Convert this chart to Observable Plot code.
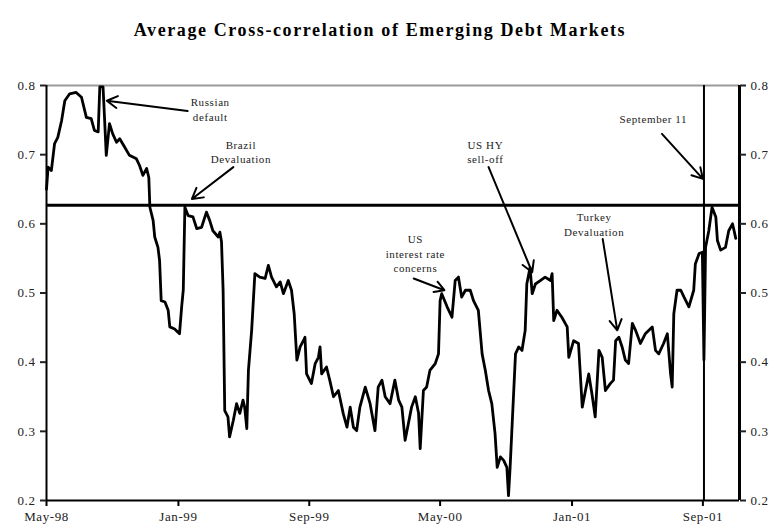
<!DOCTYPE html>
<html><head><meta charset="utf-8">
<script src="https://cdn.jsdelivr.net/npm/d3@7"></script>
<script src="https://cdn.jsdelivr.net/npm/@observablehq/plot@0.6"></script>
<style>
body{margin:0;background:#fff;}
#title{height:60px;box-sizing:border-box;padding-top:20px;text-align:center;font:bold 18px "Liberation Serif",serif;letter-spacing:1.6px;color:#000;width:760px;}
#chart svg text{letter-spacing:0.6px;}
</style></head><body>
<div id="title">Average Cross-correlation of Emerging Debt Markets</div>
<div id="chart"></div>
<script>
const dates = [
"1998-05-01","1998-05-04","1998-05-10","1998-05-16","1998-05-22","1998-05-29","1998-06-04","1998-06-13","1998-06-25","1998-07-05",
"1998-07-14","1998-07-23","1998-07-29","1998-08-05","1998-08-08","1998-08-14","1998-08-17","1998-08-20","1998-08-26","1998-09-01",
"1998-09-08","1998-09-14","1998-09-23","1998-10-02","1998-10-15","1998-10-21","1998-10-27","1998-11-03","1998-11-07","1998-11-09",
"1998-11-15","1998-11-18","1998-11-24","1998-11-27","1998-11-30","1998-12-07","1998-12-13","1998-12-16","1998-12-25","1999-01-03",
"1999-01-07","1999-01-10","1999-01-13","1999-01-19","1999-01-28","1999-02-04","1999-02-13","1999-02-22","1999-02-28","1999-03-06",
"1999-03-16","1999-03-19","1999-03-22","1999-03-25","1999-03-28","1999-04-03","1999-04-06","1999-04-13","1999-04-19","1999-04-25",
"1999-05-01","1999-05-04","1999-05-08","1999-05-11","1999-05-17","1999-05-23","1999-06-01","1999-06-11","1999-06-17","1999-06-23",
"1999-07-02","1999-07-09","1999-07-15","1999-07-24","1999-07-30","1999-08-04","1999-08-09","1999-08-15","1999-08-21","1999-08-24",
"1999-08-27","1999-09-05","1999-09-12","1999-09-18","1999-09-21","1999-09-24","1999-10-03","1999-10-09","1999-10-16","1999-10-25",
"1999-11-03","1999-11-10","1999-11-16","1999-11-22","1999-11-28","1999-12-04","1999-12-14","1999-12-23","2000-01-01","2000-01-07",
"2000-01-14","2000-01-20","2000-01-29","2000-02-07","2000-02-14","2000-02-20","2000-02-26","2000-03-03","2000-03-09","2000-03-16",
"2000-03-22","2000-03-25","2000-03-31","2000-04-06","2000-04-12","2000-04-22","2000-04-28","2000-05-01","2000-05-04","2000-05-14",
"2000-05-23","2000-05-29","2000-06-04","2000-06-10","2000-06-17","2000-06-26","2000-07-02","2000-07-11","2000-07-18","2000-07-24",
"2000-07-30","2000-08-05","2000-08-11","2000-08-15","2000-08-21","2000-08-27","2000-09-02","2000-09-05","2000-09-08","2000-09-11",
"2000-09-18","2000-09-24","2000-09-30","2000-10-06","2000-10-09","2000-10-15","2000-10-19","2000-10-25","2000-11-03","2000-11-12",
"2000-11-22","2000-11-25","2000-11-28","2000-12-04","2000-12-13","2000-12-23","2000-12-26","2001-01-04","2001-01-13","2001-01-20",
"2001-01-26","2001-02-01","2001-02-07","2001-02-13","2001-02-20","2001-02-26","2001-03-04","2001-03-13","2001-03-19","2001-03-23",
"2001-03-29","2001-04-04","2001-04-10","2001-04-16","2001-04-23","2001-04-29","2001-05-08","2001-05-17","2001-05-30","2001-06-05",
"2001-06-11","2001-06-20","2001-06-27","2001-07-03","2001-07-06","2001-07-09","2001-07-15","2001-07-22","2001-07-28","2001-08-06",
"2001-08-15","2001-08-18","2001-08-25","2001-08-31","2001-09-03","2001-09-06","2001-09-12","2001-09-18","2001-09-25","2001-09-28",
"2001-10-04","2001-10-13","2001-10-19","2001-10-26","2001-10-29","2001-11-01"
];
const values = [
0.650,0.682,0.677,0.716,0.725,0.749,0.778,0.788,0.790,0.783,
0.754,0.752,0.735,0.733,0.798,0.798,0.749,0.699,0.745,0.730,
0.718,0.723,0.711,0.699,0.694,0.684,0.670,0.680,0.667,0.624,
0.605,0.581,0.566,0.547,0.489,0.487,0.475,0.451,0.448,0.441,
0.480,0.504,0.624,0.612,0.610,0.593,0.595,0.617,0.605,0.590,
0.581,0.588,0.574,0.504,0.330,0.321,0.292,0.316,0.340,0.326,
0.345,0.335,0.304,0.388,0.446,0.528,0.523,0.521,0.540,0.523,
0.509,0.516,0.499,0.518,0.504,0.470,0.403,0.422,0.431,0.436,
0.383,0.369,0.398,0.407,0.422,0.383,0.393,0.374,0.350,0.359,
0.326,0.306,0.335,0.306,0.301,0.335,0.364,0.340,0.301,0.364,
0.374,0.350,0.340,0.374,0.345,0.335,0.287,0.311,0.335,0.350,
0.326,0.275,0.359,0.364,0.388,0.398,0.412,0.489,0.499,0.480,
0.465,0.518,0.523,0.494,0.504,0.504,0.489,0.475,0.412,0.388,
0.359,0.340,0.297,0.248,0.263,0.258,0.248,0.207,0.248,0.297,
0.412,0.422,0.417,0.446,0.513,0.537,0.499,0.513,0.518,0.523,
0.518,0.528,0.460,0.475,0.465,0.451,0.407,0.431,0.427,0.335,
0.359,0.383,0.354,0.321,0.417,0.407,0.359,0.369,0.374,0.431,
0.436,0.422,0.403,0.398,0.456,0.446,0.427,0.441,0.451,0.417,
0.412,0.427,0.441,0.383,0.364,0.470,0.504,0.504,0.494,0.480,
0.504,0.542,0.557,0.559,0.403,0.566,0.590,0.624,0.610,0.576,
0.562,0.566,0.590,0.600,0.590,0.579
];

const xDomain = ["1998-05-01", "2001-11-08"];
const xTickDates = ["1998-05-01","1999-01-01","1999-09-01","2000-05-01","2001-01-01","2001-09-01"];
const yTicks = [0.2, 0.3, 0.4, 0.5, 0.6, 0.7, 0.8];
const thresholdValue = 0.627;
const eventDate = "2001-09-03";

const noteDates = ["1999-03-01","1999-04-27","2000-07-24","2000-03-16","2001-02-11","2001-06-01"];
const noteValues = [0.766, 0.705, 0.705, 0.558, 0.600, 0.752];
const noteTexts = ["Russian\ndefault","Brazil\nDevaluation","US HY\nsell-off","US\ninterest rate\nconcerns","Turkey\nDevaluation","September 11"];
const arrowFromDates = ["1999-01-18","1999-04-13","2000-07-30","2000-03-13","2001-02-27","2001-06-17"];
const arrowFromValues = [0.763, 0.682, 0.682, 0.521, 0.578, 0.730];
const arrowToDates = ["1998-08-21","1999-01-26","2000-10-19","2000-05-09","2001-03-26","2001-09-01"];
const arrowToValues = [0.778, 0.636, 0.530, 0.504, 0.446, 0.665];

const D = s => new Date(s + "T00:00:00Z");
const series = dates.map((d, i) => ({date: D(d), value: values[i]}));
const notes = noteDates.map((d, i) => ({date: D(d), value: noteValues[i], text: noteTexts[i]}));
const arrows = arrowFromDates.map((d, i) => ({x1: D(d), y1: arrowFromValues[i], x2: D(arrowToDates[i]), y2: arrowToValues[i]}));
const x0 = D(xDomain[0]), x1 = D(xDomain[1]);

const chart = Plot.plot({
  width: 773, height: 472,
  marginLeft: 46, marginRight: 34, marginTop: 25, marginBottom: 32,
  style: {fontFamily: '"Liberation Serif", serif', fontSize: "13px", color: "#222", background: "#fff", overflow: "visible"},
  x: {type: "utc", domain: [x0, x1]},
  y: {domain: [0.2, 0.8]},
  marks: [
    Plot.ruleY([0.8], {stroke: "#9a9a9a", strokeWidth: 2}),
    Plot.ruleY([thresholdValue], {stroke: "#000", strokeWidth: 3}),
    Plot.ruleX([D(eventDate)], {stroke: "#000", strokeWidth: 2}),
    Plot.line(series, {x: "date", y: "value", stroke: "#000", strokeWidth: 2.8}),
    Plot.ruleX([x0], {stroke: "#000", strokeWidth: 2}),
    Plot.ruleX([x1], {stroke: "#000", strokeWidth: 3}),
    Plot.ruleY([0.2], {stroke: "#000", strokeWidth: 2}),
    Plot.axisX({ticks: xTickDates.map(D), tickFormat: d3.utcFormat("%b-%y"), tickSize: 6, tickPadding: 5, label: null, stroke: "#000", strokeWidth: 2}),
    Plot.axisY({anchor: "left", ticks: yTicks, tickFormat: ".1f", tickSize: 6, tickPadding: 5, label: null, strokeWidth: 2}),
    Plot.axisY({anchor: "right", ticks: yTicks, tickFormat: ".1f", tickSize: 6, tickPadding: 5, label: null, strokeWidth: 2}),
    Plot.arrow(arrows, {x1: "x1", y1: "y1", x2: "x2", y2: "y2", stroke: "#000", strokeWidth: 2, headLength: 9}),
    Plot.text(notes, {x: "date", y: "value", text: "text", fontSize: 11, lineHeight: 1.35, fill: "#222"})
  ]
});
document.getElementById("chart").appendChild(chart);
</script>
</body></html>
